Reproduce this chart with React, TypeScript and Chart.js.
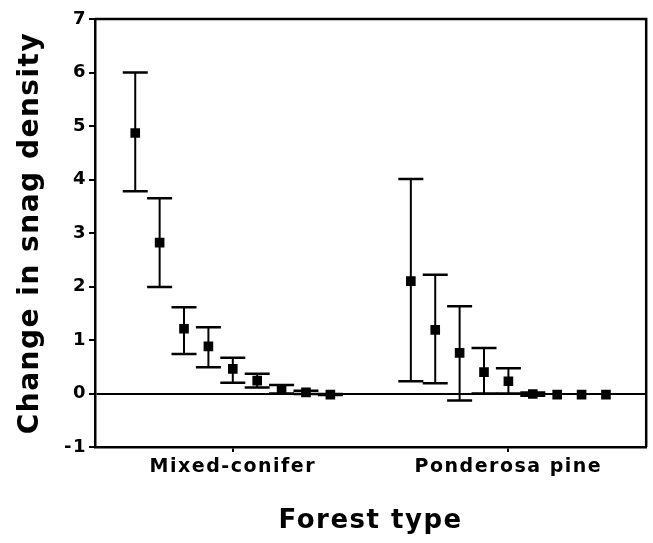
import React, { useEffect, useRef } from "react";
import { Chart, registerables } from "chart.js";

Chart.register(...registerables);

const categories = ["Mixed-conifer", "Ponderosa pine"];

const mixedMean = [4.87, 2.82, 1.21, 0.88, 0.46, 0.24, 0.07, 0.02, -0.02];
const mixedUpper = [6.0, 3.65, 1.61, 1.24, 0.67, 0.37, 0.16, 0.05, -0.01];
const mixedLower = [3.78, 1.99, 0.74, 0.49, 0.2, 0.11, 0.0, -0.01, -0.03];

const pineMean = [2.1, 1.19, 0.76, 0.4, 0.23, -0.01, -0.02, -0.02, -0.02];
const pineUpper = [4.01, 2.22, 1.63, 0.85, 0.47, 0.02, -0.02, -0.02, -0.02];
const pineLower = [0.23, 0.19, -0.13, 0.0, 0.0, -0.04, -0.02, -0.02, -0.02];

const yTicks = [-1, 0, 1, 2, 3, 4, 5, 6, 7];

const means = [mixedMean, pineMean];
const uppers = [mixedUpper, pineUpper];
const lowers = [mixedLower, pineLower];

const DODGE = 0.0885;
const xPos = (g: number, i: number, n: number) => g + (i - (n - 1) / 2) * DODGE;

const FONT = "'DejaVu Sans', sans-serif";

const spacing = {
  id: "spacing",
  beforeUpdate(chart: any) {
    chart.ctx.letterSpacing = "1.5px";
  },
  beforeDraw(chart: any) {
    chart.ctx.letterSpacing = "1.5px";
  },
};

const errorBars = {
  id: "errorBars",
  afterDatasetsDraw(chart: any) {
    const { ctx, chartArea } = chart;
    const xs = chart.scales.x;
    const ys = chart.scales.y;
    ctx.save();
    ctx.strokeStyle = "#000";
    means.forEach((arr, g) => {
      arr.forEach((_m, i) => {
        const px = xs.getPixelForValue(xPos(g, i, arr.length));
        const top = ys.getPixelForValue(uppers[g][i]);
        const bot = ys.getPixelForValue(lowers[g][i]);
        if (Math.abs(bot - top) < 0.5) return;
        ctx.lineWidth = 2;
        ctx.beginPath();
        ctx.moveTo(px, top);
        ctx.lineTo(px, bot);
        ctx.stroke();
        ctx.lineWidth = 2.5;
        ctx.beginPath();
        ctx.moveTo(px - 12.5, top);
        ctx.lineTo(px + 12.5, top);
        ctx.moveTo(px - 12.5, bot);
        ctx.lineTo(px + 12.5, bot);
        ctx.stroke();
      });
    });
    ctx.lineWidth = 2.5;
    ctx.beginPath();
    ctx.moveTo(chartArea.left, chartArea.top);
    ctx.lineTo(chartArea.right, chartArea.top);
    ctx.lineTo(chartArea.right, chartArea.bottom);
    ctx.stroke();
    ctx.restore();
  },
};

export default function App() {
  const ref = useRef<HTMLCanvasElement | null>(null);
  useEffect(() => {
    if (!ref.current) return;
    const datasets = means.map((arr, g) => ({
      label: categories[g],
      data: arr.map((m, i) => ({ x: xPos(g, i, arr.length), y: m })),
      pointStyle: "rect" as const,
      pointRadius: 6.8,
      pointHoverRadius: 6.8,
      backgroundColor: "#000",
      borderColor: "#000",
      borderWidth: 0,
      showLine: false,
    }));
    const chart = new Chart(ref.current, {
      type: "scatter",
      data: { datasets },
      plugins: [spacing, errorBars],
      options: {
        animation: false,
        responsive: false,
        events: [],
        layout: { padding: { left: 0, top: 19, right: 4, bottom: 0 } },
        plugins: { legend: { display: false }, tooltip: { enabled: false } },
        scales: {
          x: {
            type: "linear",
            display: false,
            min: -0.5,
            max: 1.5,
          },
          xc: {
            type: "category",
            axis: "x",
            position: "bottom",
            labels: categories,
            offset: true,
            afterFit: (s: any) => {
              s.height = 96;
            },
            border: { display: true, color: "#000", width: 2.5 },
            grid: {
              offset: false,
              drawOnChartArea: false,
              tickLength: 5,
              color: "#000",
              lineWidth: 2,
            },
            ticks: {
              color: "#000",
              padding: 4,
              font: { family: FONT, size: 19, weight: "bold" },
            },
            title: {
              display: true,
              text: "Forest type",
              color: "#000",
              font: { family: FONT, size: 26, weight: "bold" },
              padding: { top: 0, bottom: 6 },
            },
          },
          y: {
            type: "linear",
            min: yTicks[0],
            max: yTicks[yTicks.length - 1],
            afterFit: (s: any) => {
              s.width = 95;
            },
            afterBuildTicks: (s: any) => {
              s.ticks = yTicks.map((v) => ({ value: v }));
            },
            border: { display: true, color: "#000", width: 2.5 },
            grid: {
              drawOnChartArea: true,
              tickLength: 6,
              lineWidth: 2,
              color: (c: any) => (c.tick && c.tick.value === 0 ? "#000" : "rgba(0,0,0,0)"),
              tickColor: "#000",
            },
            ticks: {
              color: "#000",
              padding: 2,
              font: { family: FONT, size: 18, weight: "bold" },
            },
            title: {
              display: true,
              text: "Change in snag density",
              color: "#000",
              font: { family: FONT, size: 28, weight: "bold" },
              padding: { top: 14, bottom: 0 },
            },
          },
        },
      },
    });
    return () => chart.destroy();
  }, []);
  return (
    <div style={{ position: "fixed", left: 0, top: 0, width: 653, height: 543, background: "#fff" }}>
      <canvas ref={ref} width={653} height={543} />
    </div>
  );
}
